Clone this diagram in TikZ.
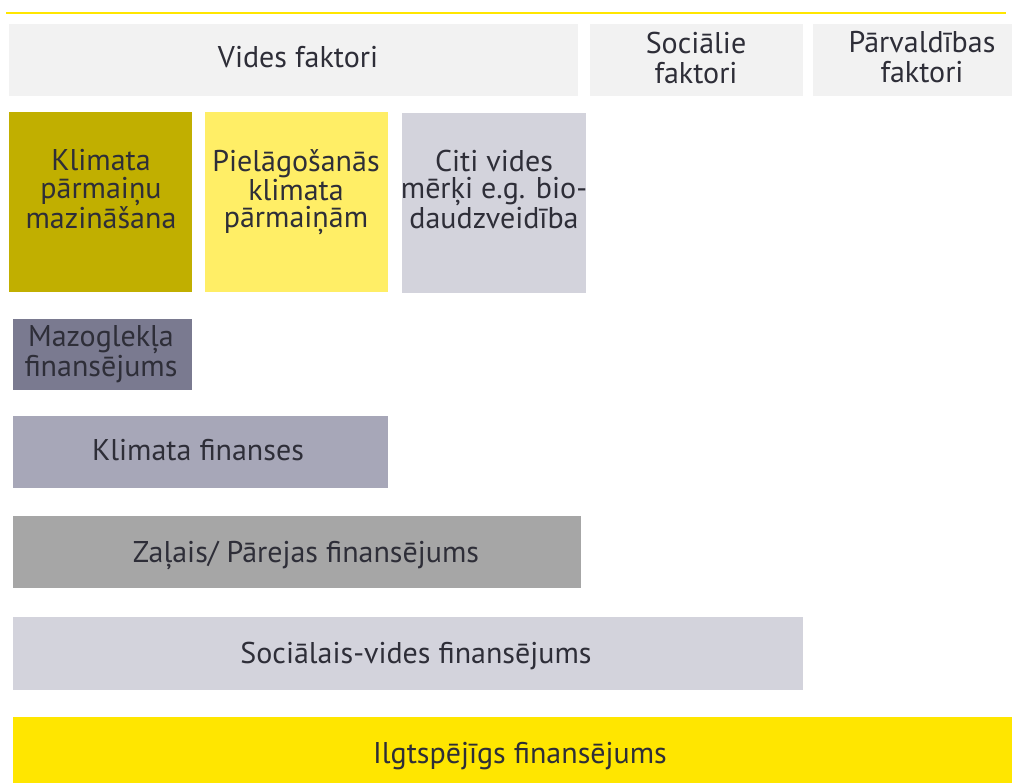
\documentclass[tikz,border=0pt]{standalone}
\usepackage{fontspec}
\setmainfont{PT Sans}
\definecolor{eyyellow}{HTML}{FFE600}
\definecolor{hdr}{HTML}{F2F2F2}
\definecolor{olive}{HTML}{C1AF00}
\definecolor{lightyel}{HTML}{FFEE66}
\definecolor{lgray}{HTML}{D3D3DC}
\definecolor{slate}{HTML}{7A7A90}
\definecolor{mgray}{HTML}{A7A7B8}
\definecolor{ggray}{HTML}{A6A6A6}
\definecolor{txt}{HTML}{2E2E38}
\begin{document}
\begin{tikzpicture}[x=1pt,y=1pt,
  box/.style={anchor=north west, inner sep=0pt, outer sep=0pt},
  lbl/.style={anchor=base, inner sep=0pt, text=txt, font=\fontsize{30}{36}\selectfont},
  mlbl/.style={anchor=north, inner sep=0pt, align=center, text=txt, font=\fontsize{30}{#1}\selectfont}]
\useasboundingbox (0,0) rectangle (1012,-783);
\fill[white] (0,0) rectangle (1012,-783);
\coordinate (la) at (6,-13);
\coordinate (lb) at (1006,-13);
\draw[eyyellow, line width=2.2pt] (la) -- (lb);
% headers
\node[box, fill=hdr, minimum width=569pt, minimum height=72pt] (vf) at (9,-24) {};
\node[lbl] (vft) at (298,-68) {Vides faktori};
\node[box, fill=hdr, minimum width=213pt, minimum height=72pt] (sf) at (590,-24) {};
\node[mlbl=30] (sft) at (696,-31.5) {Sociālie\\faktori};
\node[box, fill=hdr, minimum width=199pt, minimum height=72pt] (pf) at (813,-24) {};
\node[mlbl=30] (pft) at (922,-31.5) {Pārvaldības\\faktori};
% row 2
\node[box, fill=olive, minimum width=183pt, minimum height=180pt] (km) at (9,-112) {};
\node[mlbl=27.5] (kmt) at (101,-149.5) {Klimata\\pārmaiņu\\mazināšana};
\node[box, fill=lightyel, minimum width=183pt, minimum height=180pt] (pk) at (205,-112) {};
\node[mlbl=27.5] (pkt) at (296,-149.5) {Pielāgošanās\\klimata\\pārmaiņām};
\node[box, fill=lgray, minimum width=184pt, minimum height=180pt] (cv) at (402,-113) {};
\node[mlbl=27.5] (cvt) at (494,-149.5) {Citi vides\\mērķi e.g. bio-\\daudzveidība};
% finance bars
\node[box, fill=slate, minimum width=179pt, minimum height=71pt] (mf) at (13,-319) {};
\node[mlbl=30] (mft) at (101,-325.5) {Mazoglekļa\\finansējums};
\node[box, fill=mgray, minimum width=375pt, minimum height=72pt] (kf) at (13,-416) {};
\node[lbl] (kft) at (198,-460) {Klimata finanses};
\node[box, fill=ggray, minimum width=568pt, minimum height=72pt] (zf) at (13,-516) {};
\node[lbl] (zft) at (306,-562) {Zaļais/ Pārejas finansējums};
\node[box, fill=lgray, minimum width=790pt, minimum height=73pt] (sv) at (13,-617) {};
\node[lbl] (svt) at (416,-663) {Sociālais-vides finansējums};
\node[box, fill=eyyellow, minimum width=999pt, minimum height=66pt] (il) at (13,-717) {};
\node[lbl] (ilt) at (520,-763) {Ilgtspējīgs finansējums};
\end{tikzpicture}
\end{document}
